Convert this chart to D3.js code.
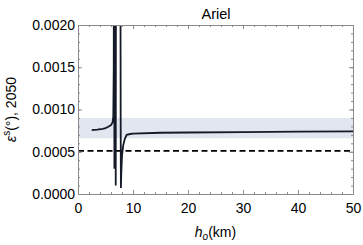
<!DOCTYPE html>
<html>
<head>
<meta charset="utf-8">
<script src="https://d3js.org/d3.v7.min.js"></script>
<style>
body { margin: 0; background: #fff; }
text { font-family: "Liberation Sans", Arial, sans-serif; }
</style>
</head>
<body>
<div id="container"></div>
<script>

var W = 363, H = 245;
var margin = {top: 25, right: 10, bottom: 51, left: 78};
var width = W - margin.left - margin.right;
var height = H - margin.top - margin.bottom;

// data
var hKm = [2.5, 3.5, 4.5, 5.0, 5.5, 6.0, 6.3, 6.42, 6.5, 6.55,
           6.58, 6.62, 6.66, 6.72, 6.78, 6.8, 6.86, 6.92, 7.0, 7.6,
           7.72, 7.76, 7.8, 7.85, 7.9, 8.0, 8.2, 8.5, 8.85, 9.5,
           10, 15, 20, 30, 40, 50];
var eps = [0.000757, 0.000762, 0.000772, 0.00078, 0.000795, 0.000815, 0.00085, 0.00092, 0.0015, 0.004,
           0.004, 0.0003, 0.004, 0.00032, 0.004, 0.004, 0.0001, 0.004, 0.004, 0.004,
           0.0025, 0.0009, 0.00007, 0.0002, 0.0003, 0.00045, 0.00057, 0.00065, 0.0007, 0.00071,
           0.000715, 0.000725, 0.000728, 0.000732, 0.000737, 0.00074];
var band = [0.00066, 0.0009];
var refLevel = 0.00051;

var xTicks = [0, 10, 20, 30, 40, 50];
var yTicks = [0, 0.0005, 0.0010, 0.0015, 0.0020];

var axisColor = "#8a8a8a";

var x = d3.scaleLinear().domain([0, 50]).range([0, width]);
var y = d3.scaleLinear().domain([0, 0.002]).range([height, 0]);

var svg = d3.select("#container")
    .append("svg")
    .attr("width", W)
    .attr("height", H)
    .append("g")
    .attr("transform", "translate(" + margin.left + "," + margin.top + ")");

svg.append("defs").append("clipPath")
    .attr("id", "clip")
    .append("rect")
    .attr("width", width)
    .attr("height", height);

var plot = svg.append("g").attr("clip-path", "url(#clip)");

// shaded band
plot.append("rect")
    .attr("x", 0)
    .attr("width", width)
    .attr("y", y(band[1]))
    .attr("height", y(band[0]) - y(band[1]))
    .attr("fill", "#e1e6ef");

// dashed reference line
plot.append("line")
    .attr("x1", 0).attr("x2", width)
    .attr("y1", y(refLevel)).attr("y2", y(refLevel))
    .attr("stroke", "#000")
    .attr("stroke-width", 1.6)
    .attr("stroke-dasharray", "6,3.5");

var line = d3.line()
    .x(function(d, i) { return x(hKm[i]); })
    .y(function(d) { return y(d); });

plot.append("path")
    .datum(eps)
    .attr("d", line)
    .attr("fill", "none")
    .attr("stroke", "#151a28")
    .attr("stroke-width", 1.8);

// frame with ticks on all sides
function frame(g, axis) {
    g.call(axis);
    g.select(".domain").attr("stroke", axisColor);
    g.selectAll(".tick line").attr("stroke", axisColor);
    g.selectAll(".tick text").attr("fill", "#000").style("font-size", "14px");
}

var xMinor = d3.range(0, 51, 2);
var yMinor = d3.range(0, 0.00201, 0.0001);

var gBottom = svg.append("g").attr("transform", "translate(0," + height + ")");
frame(gBottom, d3.axisBottom(x).tickValues(xMinor).tickSize(-2).tickSizeOuter(0).tickFormat(""));
var gBottomMajor = svg.append("g").attr("transform", "translate(0," + height + ")");
frame(gBottomMajor, d3.axisBottom(x).tickValues(xTicks).tickSize(-4).tickSizeOuter(0).tickPadding(9).tickFormat(d3.format("d")));

var gTop = svg.append("g");
frame(gTop, d3.axisTop(x).tickValues(xMinor).tickSize(-2).tickSizeOuter(0).tickFormat(""));
var gTopMajor = svg.append("g");
frame(gTopMajor, d3.axisTop(x).tickValues(xTicks).tickSize(-4).tickSizeOuter(0).tickFormat(""));

var gLeft = svg.append("g");
frame(gLeft, d3.axisLeft(y).tickValues(yMinor).tickSize(-2).tickSizeOuter(0).tickFormat(""));
var gLeftMajor = svg.append("g");
frame(gLeftMajor, d3.axisLeft(y).tickValues(yTicks).tickSize(-4).tickSizeOuter(0).tickPadding(3).tickFormat(d3.format(".4f")));

var gRight = svg.append("g").attr("transform", "translate(" + width + ",0)");
frame(gRight, d3.axisRight(y).tickValues(yMinor).tickSize(-2).tickSizeOuter(0).tickFormat(""));
var gRightMajor = svg.append("g").attr("transform", "translate(" + width + ",0)");
frame(gRightMajor, d3.axisRight(y).tickValues(yTicks).tickSize(-4).tickSizeOuter(0).tickFormat(""));

// title
svg.append("text")
    .attr("x", width / 2 + 0.5)
    .attr("y", -6)
    .attr("text-anchor", "middle")
    .style("font-size", "14.5px")
    .text("Ariel");

// x label
var xl = svg.append("text")
    .attr("x", x(25))
    .attr("y", height + 43)
    .attr("text-anchor", "middle")
    .style("font-size", "14px");
xl.append("tspan").style("font-style", "italic").text("h");
xl.append("tspan").style("font-style", "italic").style("font-size", "10px").attr("dy", 3).text("o");
xl.append("tspan").attr("dy", -3).text("(km)");

// y label
var yl = svg.append("text")
    .attr("transform", "translate(" + (-62) + "," + (height / 2) + ") rotate(-90)")
    .attr("text-anchor", "middle")
    .style("font-size", "14px");
yl.append("tspan").style("font-style", "italic").text("ε");
yl.append("tspan").style("font-size", "10px").attr("dy", -6).text("s");
yl.append("tspan").attr("dy", 6).text("(°), 2050");

</script>
</body>
</html>
